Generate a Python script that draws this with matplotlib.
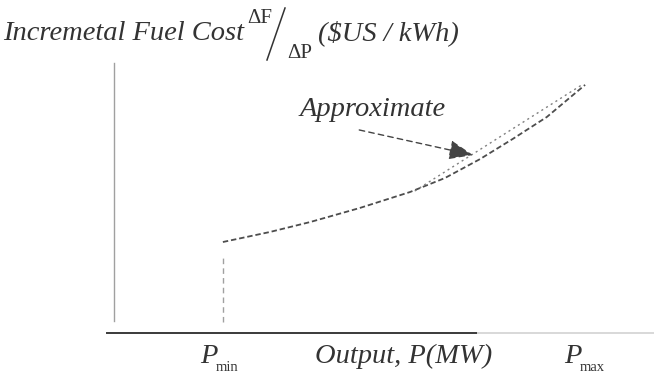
import matplotlib
matplotlib.use("Agg")
import matplotlib.pyplot as plt
from matplotlib.lines import Line2D

# ---- data (output P in % of axis span, incremental cost in % of axis height) ----
curve_p = [20.2, 28.9, 36.4, 45.6, 54.9, 61.4, 67.9, 74.0, 80.3, 87.4]
curve_cost = [33.7, 37.4, 41.1, 46.3, 52.2, 57.4, 64.4, 71.9, 80.0, 91.9]
approx_p = [55.8, 86.8]
approx_cost = [52.6, 91.9]
p_min = 20.2
p_min_line = [4.1, 28.1]
arrow_start = (45.5, 75.2)
arrow_end = (66.6, 65.9)

W, H = 654, 374
fig = plt.figure(figsize=(W / 100, H / 100), dpi=100)
fig.patch.set_facecolor("white")

left_px, right_px, top_px, bottom_px = 114, 653, 63, 333
ax = fig.add_axes([left_px / W, 1 - bottom_px / H,
                   (right_px - left_px) / W, (bottom_px - top_px) / H])
ax.set_xlim(0, 100)
ax.set_ylim(0, 100)
ax.axis("off")

serif = ["Liberation Serif", "DejaVu Serif"]

# axes lines
ax.plot([0, 0], [4.5, 100], color="#a0a0a0", lw=1.0, clip_on=False)
ax.plot([-1.3, 67.5], [0, 0], color="#3a3a3a", lw=1.4, clip_on=False)
ax.plot([67.5, 100], [0, 0], color="#d8d8d8", lw=1.4, clip_on=False)

# P_min vertical dashed line
ax.plot([p_min, p_min], p_min_line, color="#a0a0a0", lw=1.0,
        dashes=(4, 3), clip_on=False)

# main curve
ax.plot(curve_p, curve_cost, color="#4d4d4d", lw=1.3, dashes=(3, 1.6),
        clip_on=False)
# approximation
ax.plot(approx_p, approx_cost, color="#808080", lw=1.0, dashes=(1.5, 2.5),
        clip_on=False)

# arrow
ax.annotate("", xy=arrow_end, xytext=arrow_start,
            arrowprops=dict(arrowstyle="-|>,head_length=1.5,head_width=0.6",
                            color="#444444", lw=1.0, linestyle=(0, (4, 3)),
                            shrinkA=0, shrinkB=0))


def px(x, y):
    return x / W, 1 - y / H


def ftext(x, y, s, size, style="italic", color="#333333", **kw):
    fig.text(*px(x, y), s, fontsize=size, family=serif, style=style,
             color=color, ha="left", va="baseline", **kw)


# title
ftext(3, 40, "Incremetal Fuel Cost", 20.5)
ftext(247, 23, "ΔF", 15, style="normal")
fig.add_artist(Line2D([267 / W, 285 / W], [1 - 60 / H, 1 - 8 / H],
                      color="#333333", lw=1.1))
ftext(287, 58, "ΔP", 15, style="normal")
ftext(318, 40, "(\\$US / kWh)", 20.5)

# annotation text
ftext(300, 116, "Approximate", 20.5)

# x labels
ftext(200, 363, "P", 20.5)
ftext(216, 371, "min", 10.5, style="normal")
ftext(315, 363, "Output, P(MW)", 20.5)
ftext(564, 363, "P", 20.5)
ftext(580, 371, "max", 10.5, style="normal")

fig.savefig("out.png", dpi=100, facecolor="white")
